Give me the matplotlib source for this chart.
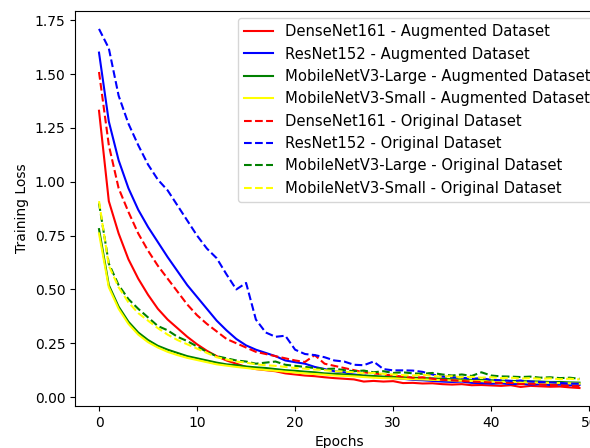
import numpy as np
import matplotlib
matplotlib.use("Agg")
import matplotlib.pyplot as plt

epochs = np.arange(50)

# training loss per epoch, augmented dataset
densenet_aug = [1.33, 0.91, 0.76, 0.64, 0.55, 0.475, 0.41, 0.36, 0.32, 0.28,
                0.245, 0.215, 0.19, 0.17, 0.155, 0.14, 0.13, 0.125, 0.12, 0.11,
                0.105, 0.10, 0.097, 0.092, 0.088, 0.085, 0.082, 0.072, 0.075, 0.072,
                0.074, 0.065, 0.066, 0.063, 0.064, 0.06, 0.058, 0.06, 0.055, 0.056,
                0.054, 0.052, 0.055, 0.047, 0.052, 0.05, 0.048, 0.049, 0.045, 0.042]
resnet_aug = [1.60, 1.28, 1.10, 0.97, 0.87, 0.79, 0.72, 0.65, 0.585, 0.52,
              0.465, 0.41, 0.355, 0.31, 0.27, 0.24, 0.22, 0.205, 0.19, 0.17,
              0.162, 0.155, 0.14, 0.13, 0.12, 0.115, 0.105, 0.10, 0.095, 0.09,
              0.088, 0.085, 0.08, 0.078, 0.075, 0.072, 0.07, 0.072, 0.066, 0.065,
              0.062, 0.064, 0.06, 0.062, 0.058, 0.06, 0.056, 0.058, 0.055, 0.056]
mnl_aug = [0.78, 0.52, 0.42, 0.35, 0.30, 0.265, 0.238, 0.22, 0.205, 0.19,
           0.18, 0.17, 0.16, 0.152, 0.148, 0.142, 0.138, 0.135, 0.13, 0.125,
           0.122, 0.118, 0.115, 0.11, 0.108, 0.105, 0.102, 0.10, 0.098, 0.095,
           0.094, 0.092, 0.09, 0.088, 0.087, 0.085, 0.083, 0.082, 0.08, 0.079,
           0.078, 0.076, 0.075, 0.074, 0.073, 0.072, 0.07, 0.07, 0.068, 0.067]
mns_aug = [0.76, 0.51, 0.41, 0.34, 0.29, 0.255, 0.23, 0.21, 0.195, 0.182,
           0.172, 0.162, 0.152, 0.146, 0.14, 0.135, 0.13, 0.126, 0.122, 0.118,
           0.114, 0.11, 0.107, 0.104, 0.10, 0.098, 0.096, 0.093, 0.09, 0.088,
           0.087, 0.085, 0.083, 0.082, 0.08, 0.079, 0.077, 0.076, 0.075, 0.074,
           0.072, 0.071, 0.07, 0.069, 0.068, 0.067, 0.066, 0.065, 0.064, 0.062]

# training loss per epoch, original dataset
densenet_orig = [1.51, 1.17, 0.97, 0.86, 0.76, 0.68, 0.61, 0.55, 0.49, 0.43,
                 0.38, 0.34, 0.305, 0.27, 0.25, 0.23, 0.21, 0.20, 0.19, 0.18,
                 0.17, 0.163, 0.195, 0.155, 0.145, 0.135, 0.125, 0.115, 0.11, 0.105,
                 0.10, 0.095, 0.09, 0.092, 0.085, 0.08, 0.078, 0.075, 0.072, 0.07,
                 0.068, 0.065, 0.066, 0.06, 0.062, 0.058, 0.056, 0.055, 0.052, 0.05]
resnet_orig = [1.71, 1.62, 1.40, 1.27, 1.17, 1.08, 1.01, 0.96, 0.89, 0.82,
               0.75, 0.69, 0.645, 0.57, 0.50, 0.53, 0.36, 0.30, 0.28, 0.285,
               0.22, 0.20, 0.195, 0.185, 0.17, 0.165, 0.15, 0.148, 0.165, 0.13,
               0.124, 0.124, 0.123, 0.117, 0.105, 0.095, 0.092, 0.09, 0.085, 0.088,
               0.08, 0.078, 0.075, 0.077, 0.072, 0.07, 0.068, 0.066, 0.063, 0.062]
mnl_orig = [0.90, 0.62, 0.52, 0.455, 0.41, 0.37, 0.33, 0.31, 0.28, 0.26,
            0.235, 0.21, 0.19, 0.18, 0.17, 0.165, 0.155, 0.16, 0.165, 0.15,
            0.145, 0.14, 0.135, 0.13, 0.132, 0.125, 0.12, 0.123, 0.115, 0.12,
            0.112, 0.115, 0.11, 0.108, 0.112, 0.105, 0.10, 0.105, 0.098, 0.115,
            0.10, 0.096, 0.095, 0.093, 0.095, 0.09, 0.092, 0.088, 0.09, 0.085]
mns_orig = [0.91, 0.61, 0.51, 0.44, 0.39, 0.355, 0.32, 0.29, 0.265, 0.245,
            0.225, 0.205, 0.185, 0.175, 0.165, 0.16, 0.152, 0.148, 0.145, 0.14,
            0.135, 0.132, 0.128, 0.125, 0.12, 0.118, 0.115, 0.11, 0.112, 0.108,
            0.105, 0.102, 0.10, 0.104, 0.098, 0.095, 0.097, 0.092, 0.094, 0.09,
            0.092, 0.088, 0.09, 0.086, 0.088, 0.085, 0.087, 0.083, 0.085, 0.082]

fig = plt.figure(figsize=(5.9, 4.48), dpi=100)
ax = fig.add_axes([0.1271, 0.0938, 0.8958, 0.8817])

ax.plot(epochs, densenet_aug, color="red", label="DenseNet161 - Augmented Dataset")
ax.plot(epochs, resnet_aug, color="blue", label="ResNet152 - Augmented Dataset")
ax.plot(epochs, mnl_aug, color="green", label="MobileNetV3-Large - Augmented Dataset")
ax.plot(epochs, mns_aug, color="yellow", label="MobileNetV3-Small - Augmented Dataset")
ax.plot(epochs, densenet_orig, "--", color="red", label="DenseNet161 - Original Dataset")
ax.plot(epochs, resnet_orig, "--", color="blue", label="ResNet152 - Original Dataset")
ax.plot(epochs, mnl_orig, "--", color="green", label="MobileNetV3-Large - Original Dataset")
ax.plot(epochs, mns_orig, "--", color="yellow", label="MobileNetV3-Small - Original Dataset")

ax.set_xlabel("Epochs")
ax.set_ylabel("Training Loss")
ax.legend(loc="upper right", fontsize=10.6)

fig.savefig("out.png", dpi=100)
